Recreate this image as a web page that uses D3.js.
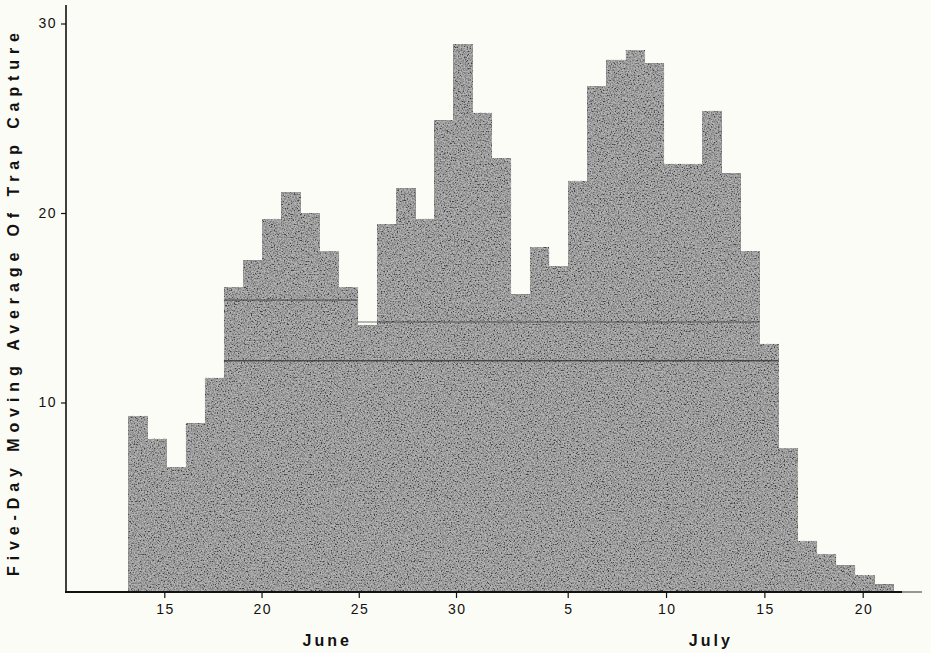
<!DOCTYPE html>
<html>
<head>
<meta charset="utf-8">
<script src="https://cdn.jsdelivr.net/npm/d3@7/dist/d3.min.js"></script>
<style>
  html, body { margin: 0; padding: 0; background: #fcfcf6; }
  svg { display: block; }
  text { font-family: "Liberation Sans", Arial, Helvetica, sans-serif; fill: #111; }
</style>
</head>
<body>
<svg id="chart" width="931" height="653"></svg>
<script>
// ---- data ----
const categories = [
  "Jun 13","Jun 14","Jun 15","Jun 16","Jun 17","Jun 18","Jun 19","Jun 20","Jun 21","Jun 22",
  "Jun 23","Jun 24","Jun 25","Jun 26","Jun 27","Jun 28","Jun 29","Jun 30","Jul 1","Jul 2",
  "Jul 3","Jul 4","Jul 5","Jul 6","Jul 7","Jul 8","Jul 9","Jul 10","Jul 11","Jul 12",
  "Jul 13","Jul 14","Jul 15","Jul 16","Jul 17","Jul 18","Jul 19","Jul 20","Jul 21","Jul 22"
];
const values = [
  9.3, 8.1, 6.6, 8.9, 11.3, 16.1, 17.5, 19.7, 21.1, 20.0,
  18.0, 16.1, 14.1, 19.4, 21.3, 19.7, 24.9, 28.9, 25.3, 22.9,
  15.7, 18.2, 17.2, 21.7, 26.7, 28.1, 28.6, 27.9, 22.6, 22.6,
  25.4, 22.1, 18.0, 13.1, 7.6, 2.7, 2.0, 1.4, 0.9, 0.4
];
// faint level lines visible inside the shaded area
const levelStart = ["Jun 18", "Jun 25", "Jun 18"];
const levelEnd   = ["Jun 24", "Jul 15", "Jul 16"];
const levelValue = [15.4, 14.25, 12.2];

// date axis: day number (June d = d, July d = 30 + d)
const xTickDays   = [15, 20, 25, 30, 35, 40, 45, 50];
const xTickLabels = ["15", "20", "25", "30", "5", "10", "15", "20"];
const yTicks = [10, 20, 30];
const monthNames = ["June", "July"];
const monthCenterDays = [23.3, 42.2];
const yTitle = "Five-Day Moving Average Of Trap Capture";

// ---- layout ----
const W = 931, H = 653;
const axisX = 66, axisY = 592;
const svg = d3.select("#chart");

const y = d3.scaleLinear().domain([0, 30]).range([axisY, 23.5]);
const xBar = d3.scaleBand().domain(categories).range([128.3, 893.3]).padding(0);
const xDate = d3.scaleLinear().domain([15, 30, 35, 50]).range([164.3, 456, 567.7, 862.7]);

// ---- defs: grain texture ----
const defs = svg.append("defs");
const f = defs.append("filter").attr("id", "grain")
  .attr("x", 0).attr("y", 0).attr("width", "100%").attr("height", "100%")
  .attr("filterUnits", "userSpaceOnUse");
f.append("feTurbulence").attr("type", "fractalNoise").attr("baseFrequency", "0.7")
  .attr("numOctaves", 3).attr("seed", 7).attr("result", "n");
f.append("feColorMatrix").attr("type", "matrix")
  .attr("values", "1 0 0 0 0  1 0 0 0 0  1 0 0 0 0  0 0 0 0 1").attr("result", "g");
const ct = f.append("feComponentTransfer");
["feFuncR", "feFuncG", "feFuncB"].forEach(fn =>
  ct.append(fn).attr("type", "linear").attr("slope", 2.4).attr("intercept", -0.65));

const clip = defs.append("clipPath").attr("id", "barsClip");
clip.selectAll("rect").data(values).join("rect")
  .attr("x", (d, i) => xBar(categories[i]))
  .attr("y", d => y(d))
  .attr("width", xBar.bandwidth() + 0.4)
  .attr("height", d => y(0) - y(d));

// ---- bars ----
svg.append("g").selectAll("rect").data(values).join("rect")
  .attr("x", (d, i) => xBar(categories[i]))
  .attr("y", d => y(d))
  .attr("width", xBar.bandwidth() + 0.4)
  .attr("height", d => y(0) - y(d))
  .attr("fill", "#7d7d7d")
  .attr("shape-rendering", "crispEdges");

svg.append("g").attr("clip-path", "url(#barsClip)")
  .append("rect")
  .attr("x", 120).attr("y", 0).attr("width", 790).attr("height", axisY)
  .attr("filter", "url(#grain)")
  .attr("opacity", 0.45);

// level lines
svg.append("g").selectAll("line").data(levelValue).join("line")
  .attr("x1", (d, i) => xBar(levelStart[i]))
  .attr("x2", (d, i) => xBar(levelEnd[i]) + xBar.bandwidth())
  .attr("y1", d => y(d)).attr("y2", d => y(d))
  .attr("stroke", "#2e2e2e")
  .attr("stroke-width", 1.6)
  .attr("opacity", (d, i) => i === 2 ? 0.75 : 0.45);

// ---- axes ----
// y axis
const yAxis = svg.append("g").attr("transform", `translate(${axisX},0)`)
  .call(d3.axisLeft(y).tickValues(yTicks).tickSize(5).tickPadding(5).tickFormat(d3.format("d")));
yAxis.select(".domain").remove();
yAxis.selectAll(".tick line").attr("stroke", "#111").attr("stroke-width", 1.2);
yAxis.selectAll(".tick text")
  .style("font-size", "14px").style("letter-spacing", "1.5px")
  .attr("dx", "1px").attr("fill", "#111");
svg.append("line")
  .attr("x1", axisX).attr("x2", axisX)
  .attr("y1", 5).attr("y2", axisY + 0.5)
  .attr("stroke", "#111").attr("stroke-width", 1.6);

// x axis
const xAxis = svg.append("g").attr("transform", `translate(0,${axisY})`)
  .call(d3.axisBottom(xDate).tickValues(xTickDays).tickSize(6).tickPadding(6)
    .tickFormat((d, i) => xTickLabels[i]));
xAxis.select(".domain").remove();
xAxis.selectAll(".tick line").attr("stroke", "#111").attr("stroke-width", 1.2);
xAxis.selectAll(".tick text")
  .style("font-size", "14px").style("letter-spacing", "1.5px")
  .attr("dx", "0.75px").attr("fill", "#111");
svg.append("line")
  .attr("x1", axisX - 1).attr("x2", 902)
  .attr("y1", axisY).attr("y2", axisY)
  .attr("stroke", "#111").attr("stroke-width", 1.8);
svg.append("line")
  .attr("x1", 902).attr("x2", 922)
  .attr("y1", axisY).attr("y2", axisY)
  .attr("stroke", "#333").attr("stroke-width", 1);

// month labels
svg.append("g").selectAll("text").data(monthNames).join("text")
  .attr("x", (d, i) => xDate(monthCenterDays[i]) + 1.5)
  .attr("y", 646)
  .attr("text-anchor", "middle")
  .style("font-size", "16px").style("font-weight", "bold").style("letter-spacing", "3px")
  .text(d => d);

// y title
svg.append("text")
  .attr("transform", "translate(19,576) rotate(-90)")
  .attr("text-anchor", "start")
  .attr("textLength", 543).attr("lengthAdjust", "spacing")
  .style("font-size", "16px").style("font-weight", "bold")
  .text(yTitle);
</script>
</body>
</html>
